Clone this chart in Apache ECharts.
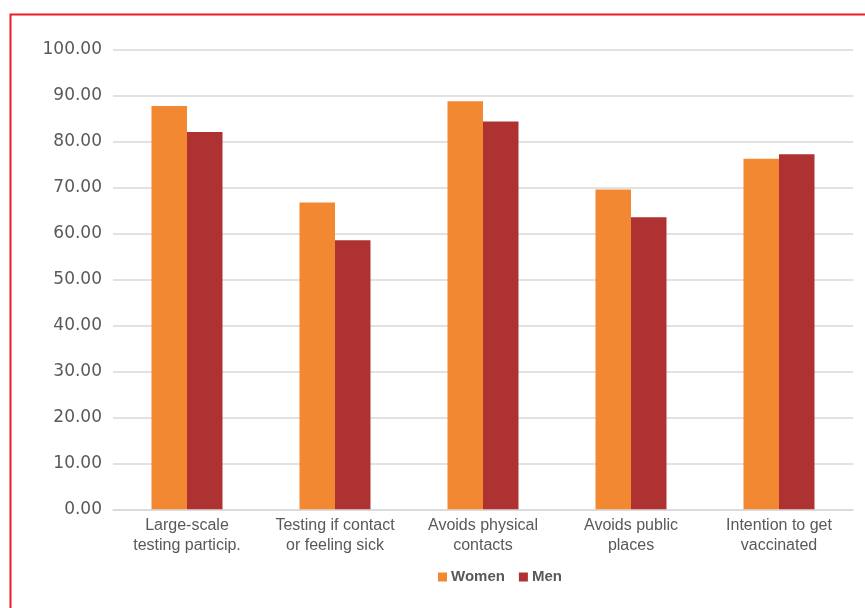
<!DOCTYPE html>
<html>
<head>
<meta charset="utf-8">
<script src="https://cdn.jsdelivr.net/npm/echarts@6/dist/echarts.min.js"></script>
<style>
html,body{margin:0;padding:0;background:#fff;}
#chart{width:865px;height:608px;}
</style>
</head>
<body>
<div id="chart"></div>
<script>
var categories = ["Large-scale\ntesting particip.", "Testing if contact\nor feeling sick", "Avoids physical\ncontacts", "Avoids public\nplaces", "Intention to get\nvaccinated"];
var women = [87.7, 66.7, 88.7, 69.5, 76.2];
var men = [82.0, 58.5, 84.3, 63.5, 77.2];
var seriesNames = ["Women", "Men"];
var yTicks = {min: 0, max: 100, step: 10};

var chart = echarts.init(document.getElementById('chart'), null, {renderer: 'canvas'});
chart.setOption({
  animation: false,
  backgroundColor: '#ffffff',
  graphic: [{
    type: 'rect',
    shape: {x: 10.5, y: 14.5, width: 900, height: 700},
    style: {fill: 'none', stroke: '#ed1c24', lineWidth: 2},
    silent: true
  }],
  grid: {left: 113, width: 740, top: 49.3, height: 460, containLabel: false},
  legend: {
    data: seriesNames,
    left: 438, top: 569.5, padding: 0,
    icon: 'rect', itemWidth: 9, itemHeight: 9, itemGap: 14,
    textStyle: {fontFamily: 'Liberation Sans', fontWeight: 'bold', fontSize: 15, color: '#595959', padding: [0,0,0,-1]}
  },
  xAxis: {
    type: 'category',
    data: categories,
    axisLine: {lineStyle: {color: '#d9d9d9', width: 1.5}},
    axisTick: {show: false},
    axisLabel: {interval: 0, margin: 6, fontFamily: 'Liberation Sans', fontSize: 16, lineHeight: 20, color: '#595959'}
  },
  yAxis: {
    type: 'value',
    min: yTicks.min, max: yTicks.max, interval: yTicks.step,
    axisLine: {show: false},
    axisTick: {show: false},
    splitLine: {lineStyle: {color: '#d9d9d9', width: 1.5}},
    axisLabel: {margin: 11, fontFamily: 'DejaVu Sans', fontSize: 17, color: '#595959', padding: [0,0,5,0],
      formatter: function (v) { return v.toFixed(2); }}
  },
  series: [
    {name: seriesNames[0], type: 'bar', data: women, barWidth: 35.5, barGap: '0%',
     itemStyle: {color: '#f28831'}},
    {name: seriesNames[1], type: 'bar', data: men, barWidth: 35.5, barGap: '0%',
     itemStyle: {color: '#ae3232'}}
  ]
});
</script>
</body>
</html>
